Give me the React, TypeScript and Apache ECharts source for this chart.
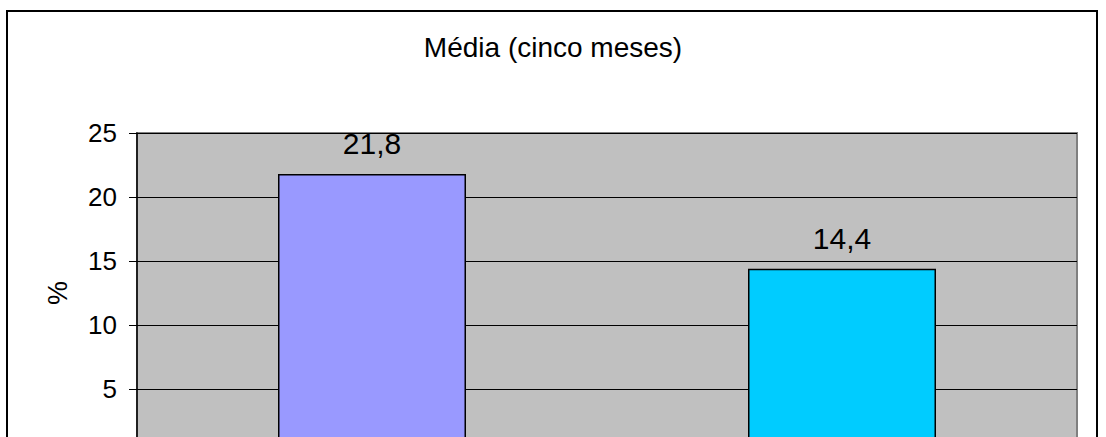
import React, { useEffect, useRef } from "react";
import * as echarts from "echarts";

const titleText = "Média (cinco meses)";
const categories = ["A", "B"];
const values = [21.8, 14.4];
const barColors = ["#9999FF", "#00CCFF"];
const yTicks = { min: 0, max: 25, interval: 5 };

export default function App() {
  const ref = useRef<HTMLDivElement>(null);
  useEffect(() => {
    if (!ref.current) return;
    const chart = echarts.init(ref.current, null, { renderer: "svg" });
    const font = "'Liberation Sans', Arial, sans-serif";
    chart.setOption({
      animation: false,
      backgroundColor: "#ffffff",
      textStyle: { fontFamily: font },
      title: {
        text: titleText,
        left: "center",
        top: 28,
        textStyle: { fontFamily: font, fontSize: 28, fontWeight: "normal", color: "#000" },
      },
      graphic: [
        {
          type: "rect",
          shape: { x: 7, y: 11, width: 1090, height: 500 },
          style: { fill: "none", stroke: "#000", lineWidth: 2 },
          silent: true,
          z: 100,
        },
      ],
      grid: {
        left: 137,
        right: 29,
        top: 133,
        bottom: 67,
        show: true,
        backgroundColor: "#C0C0C0",
        borderColor: "#808080",
        borderWidth: 2,
      },
      xAxis: {
        type: "category",
        data: categories,
        axisLine: { show: false },
        axisTick: { show: false },
        axisLabel: { show: false },
      },
      yAxis: {
        type: "value",
        min: yTicks.min,
        max: yTicks.max,
        interval: yTicks.interval,
        name: "%",
        nameLocation: "middle",
        nameRotate: 90,
        nameGap: 66,
        nameTextStyle: { fontFamily: font, fontSize: 27, color: "#000" },
        axisLine: { show: true, lineStyle: { color: "#000", width: 1.5 } },
        axisTick: { show: true, length: 8, lineStyle: { color: "#000" } },
        axisLabel: { fontFamily: font, fontSize: 26, color: "#000", margin: 20, showMinLabel: false },
        splitLine: { show: true, lineStyle: { color: "#000", width: 1.2 } },
      },
      series: [
        {
          type: "bar",
          barWidth: "40%",
          data: values.map((v, i) => ({
            value: v,
            itemStyle: { color: barColors[i], borderColor: "#000", borderWidth: 1.5 },
          })),
          label: {
            show: true,
            position: "top",
            distance: 15,
            fontFamily: font,
            fontSize: 30,
            color: "#000",
            formatter: (p: any) => String(p.value).replace(".", ","),
          },
        },
      ],
    });
    return () => chart.dispose();
  }, []);
  return (
    <div
      ref={ref}
      style={{ position: "absolute", left: 0, top: 0, width: 1106, height: 520 }}
    />
  );
}
